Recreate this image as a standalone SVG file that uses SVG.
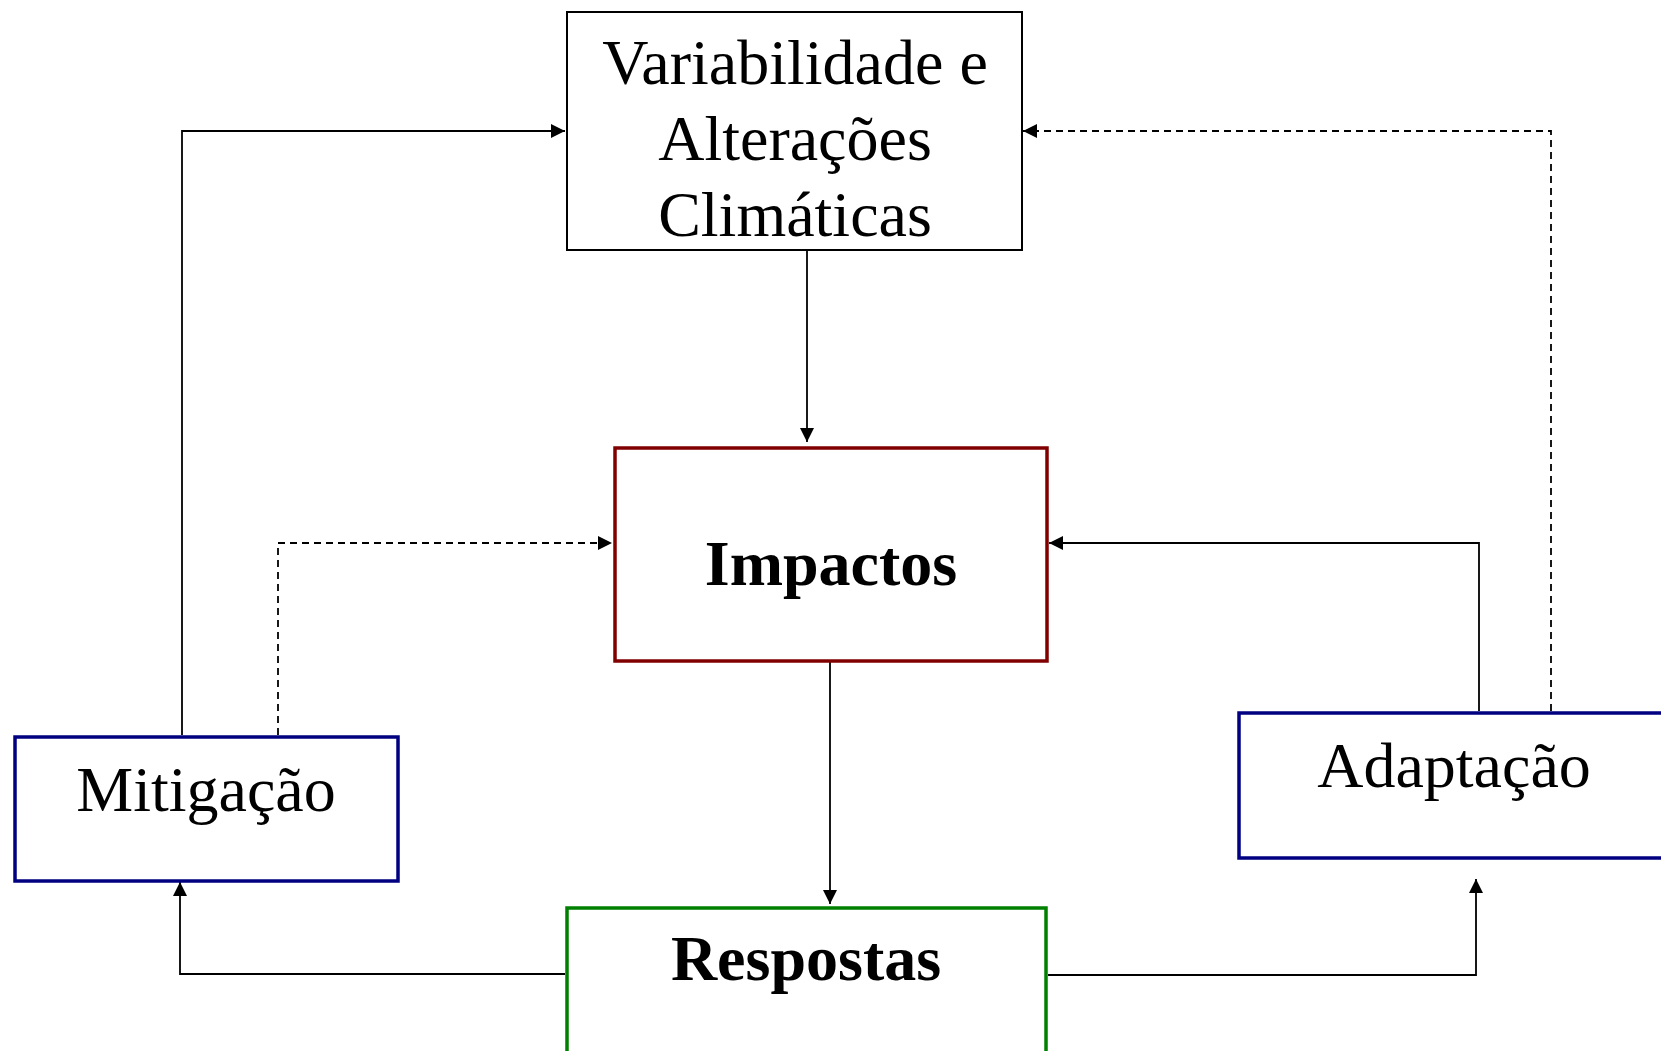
<svg xmlns="http://www.w3.org/2000/svg" width="1661" height="1051" viewBox="0 0 1661 1051">
<style>
.t{font-family:"Liberation Serif","Times New Roman",serif;font-size:64px;fill:#000;text-anchor:middle}
.b{font-weight:bold}
.c{fill:none;stroke:#000;stroke-width:1.8}
.d{stroke-dasharray:7 5}
</style>
<defs>
<marker id="ah" markerUnits="userSpaceOnUse" markerWidth="15" markerHeight="15" refX="14" refY="7" orient="auto">
<path d="M0,0 L14,7 L0,14 z" fill="#000"/>
</marker>
</defs>
<rect width="1661" height="1051" fill="#fff"/>
<g id="connectors">
<path class="c" d="M807,250 V442" marker-end="url(#ah)"/>
<path class="c" d="M830,662 V904" marker-end="url(#ah)"/>
<path class="c" d="M182,735 V131 H565" marker-end="url(#ah)"/>
<path class="c d" d="M278,735 V543 H612" marker-end="url(#ah)"/>
<path class="c" d="M1479,711 V543 H1049" marker-end="url(#ah)"/>
<path class="c d" d="M1551,711 V131 H1023" marker-end="url(#ah)"/>
<path class="c" d="M565,974 H180 V882" marker-end="url(#ah)"/>
<path class="c" d="M1048,975 H1476 V879" marker-end="url(#ah)"/>
</g>
<g id="clima">
<rect x="567" y="12" width="455" height="238" fill="#fff" stroke="#000" stroke-width="2"/>
<text class="t" x="795" y="84">Variabilidade e</text>
<text class="t" x="795" y="160">Alterações</text>
<text class="t" x="795" y="236">Climáticas</text>
</g>
<g id="impactos">
<rect x="615" y="448" width="432" height="213" fill="#fff" stroke="#800000" stroke-width="3.5"/>
<text class="t b" x="831" y="585">Impactos</text>
</g>
<g id="mitigacao">
<rect x="15" y="737" width="383" height="144" fill="#fff" stroke="#000080" stroke-width="3.5"/>
<text class="t" x="206" y="811">Mitigação</text>
</g>
<g id="adaptacao">
<rect x="1239" y="713" width="480" height="145" fill="#fff" stroke="#000080" stroke-width="3.5"/>
<text class="t" x="1454" y="787">Adaptação</text>
</g>
<g id="respostas">
<rect x="567" y="908" width="479" height="180" fill="#fff" stroke="#008000" stroke-width="3.5"/>
<text class="t b" x="806" y="980">Respostas</text>
</g>
</svg>
